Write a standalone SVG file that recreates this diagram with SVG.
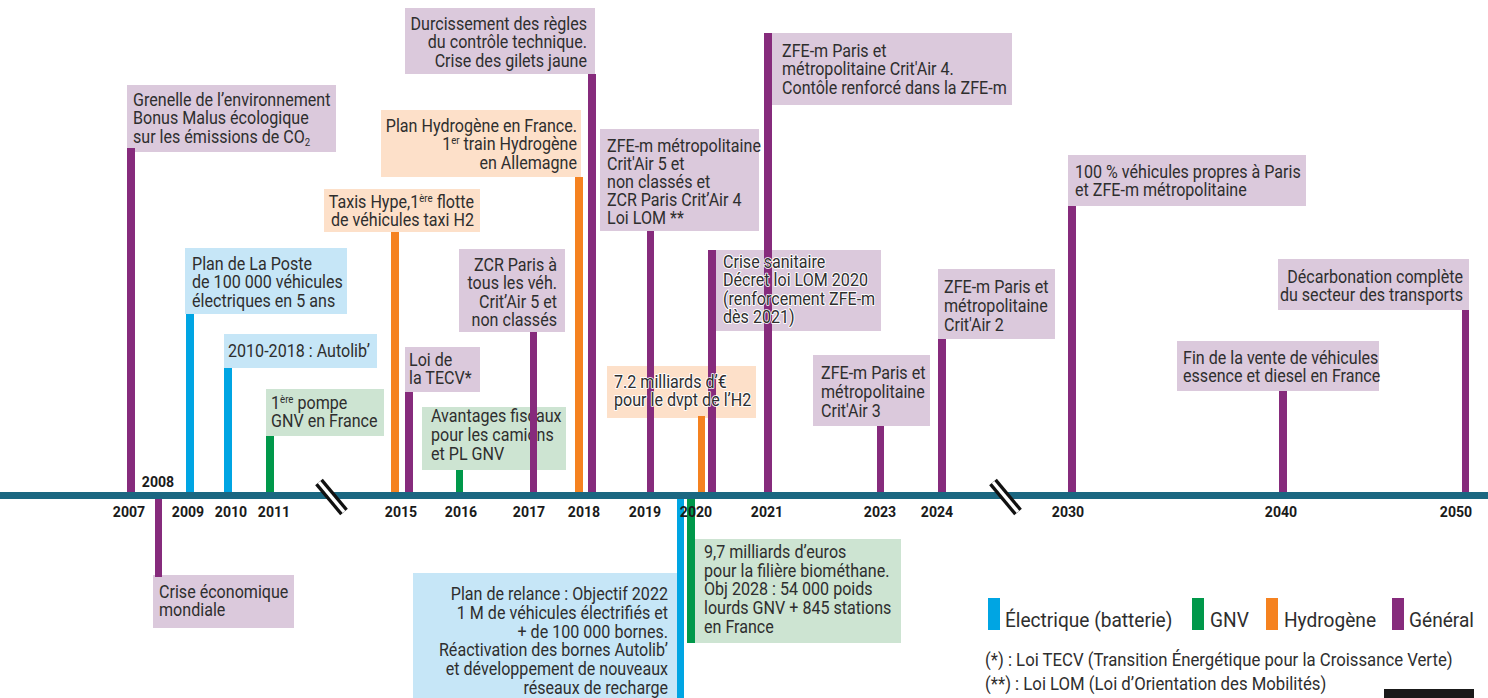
<svg xmlns="http://www.w3.org/2000/svg" xmlns:xlink="http://www.w3.org/1999/xlink" width="1488" height="698" viewBox="0 0 1488 698">
<style>
.t{font-family:Roboto,"Liberation Sans",sans-serif;font-size:17.5px;fill:#2e2e2e}
.e{text-anchor:end}
.halo{stroke:#ffffff;stroke-width:1.6px;paint-order:stroke;stroke-linejoin:round}
.bp{fill:#dbc9dc}.bb{fill:#c6e6f7}.bg{fill:#cde4d2}.bo{fill:#fde0c9}
.sp{fill:#862b7c}.sb{fill:#00a5e3}.sg{fill:#00984a}.so{fill:#f58220}
.yr{font-family:Roboto,"Liberation Sans",sans-serif;font-size:15px;font-weight:bold;fill:#1a1a1a;text-anchor:middle}
.lg{font-family:Roboto,"Liberation Sans",sans-serif;font-size:21px;fill:#2e2e2e}
.fn{font-family:Roboto,"Liberation Sans",sans-serif;font-size:18px;fill:#2e2e2e}
.sup{font-size:10.5px}
</style>
<rect width="1488" height="698" fill="#ffffff"/>

<g id="n2007"><rect class="bp" x="127" y="85" width="209" height="67"/>
<text class="t" transform="translate(133,106) scale(0.92,1)"><tspan x="0" y="0">Grenelle de l’environnement</tspan><tspan x="0" y="18.4">Bonus Malus écologique</tspan><tspan x="0" y="36.8">sur les émissions de CO<tspan class="sup" dy="3">2</tspan></tspan></text></g>

<g id="n2008"><rect class="bp" x="153" y="575" width="141" height="53"/>
<text class="t" transform="translate(159,598) scale(0.92,1)"><tspan x="0" y="0">Crise économique</tspan><tspan x="0" y="18.4">mondiale</tspan></text></g>

<g id="n2009"><rect class="bb" x="185" y="248" width="162" height="66"/>
<text class="t" transform="translate(192,270) scale(0.92,1)"><tspan x="0" y="0">Plan de La Poste</tspan><tspan x="0" y="18.4">de 100 000 véhicules</tspan><tspan x="0" y="36.8">électriques en 5 ans</tspan></text></g>

<g id="n2010"><rect class="bb" x="224" y="334" width="153" height="34"/>
<text class="t" transform="translate(228,357) scale(0.92,1)"><tspan x="0" y="0">2010-2018 : Autolib’</tspan></text></g>

<g id="n2011"><rect class="bg" x="266" y="389" width="118" height="47"/>
<text class="t" transform="translate(271,409) scale(0.92,1)"><tspan x="0" y="0">1<tspan class="sup" dy="-6">ère</tspan><tspan dy="6"> pompe</tspan></tspan><tspan x="0" y="18.4">GNV en France</tspan></text></g>

<g id="n2015h"><rect class="bo" x="324" y="189" width="156" height="43"/>
<text class="t e" transform="translate(474,208) scale(0.92,1)"><tspan x="0" y="0">Taxis Hype,1<tspan class="sup" dy="-6">ère</tspan><tspan dy="6"> flotte</tspan></tspan><tspan x="0" y="18.4">de véhicules taxi H2</tspan></text></g>

<g id="n2015"><rect class="bp" x="405" y="347" width="75" height="45"/>
<text class="t" transform="translate(409,366) scale(0.92,1)"><tspan x="0" y="0">Loi de</tspan><tspan x="0" y="18.4">la TECV*</tspan></text></g>

<g id="n2016"><rect class="bg" x="422" y="407" width="144" height="63"/>
<text class="t" transform="translate(431,422) scale(0.92,1)"><tspan x="0" y="0">Avantages fiscaux</tspan><tspan x="0" y="19">pour les camions</tspan><tspan x="0" y="38">et PL GNV</tspan></text></g>

<g id="n2017"><rect class="bp" x="459" y="249" width="106" height="83"/>
<text class="t e" transform="translate(557,271) scale(0.92,1)"><tspan x="0" y="0">ZCR Paris à</tspan><tspan x="0" y="18.4">tous les véh.</tspan><tspan x="0" y="36.8">Crit’Air 5 et</tspan><tspan x="0" y="55.2">non classés</tspan></text></g>

<g id="n2018h"><rect class="bo" x="381" y="110" width="200" height="67"/>
<text class="t e" transform="translate(577,132) scale(0.92,1)"><tspan x="0" y="0">Plan Hydrogène en France.</tspan><tspan x="0" y="18.4">1<tspan class="sup" dy="-6">er</tspan><tspan dy="6"> train Hydrogène</tspan></tspan><tspan x="0" y="36.8">en Allemagne</tspan></text></g>

<g id="n2018"><rect class="bp" x="405" y="8" width="190" height="66"/>
<text class="t e" transform="translate(587,30) scale(0.92,1)"><tspan x="0" y="0">Durcissement des règles</tspan><tspan x="0" y="18.4">du contrôle technique.</tspan><tspan x="0" y="36.8">Crise des gilets jaune</tspan></text></g>

<g id="n2019"><rect class="bp" x="600" y="129" width="159" height="102"/>
<text class="t" transform="translate(607,152) scale(0.92,1)"><tspan x="0" y="0">ZFE-m métropolitaine</tspan><tspan x="0" y="18">Crit'Air 5 et</tspan><tspan x="0" y="36">non classés et</tspan><tspan x="0" y="54">ZCR Paris Crit’Air 4</tspan><tspan x="0" y="72">Loi LOM **</tspan></text></g>

<g id="n2020h"><rect class="bo" x="607" y="366" width="149" height="52"/>
<text id="t2020h" class="t halo" transform="translate(614,388) scale(0.92,1)"><tspan x="0" y="0">7.2 milliards d’€</tspan><tspan x="0" y="18.4">pour le dvpt de l’H2</tspan></text></g>

<g id="n2020"><rect class="bp" x="708" y="250" width="173" height="81"/>
<text id="t2020" class="t halo" transform="translate(723,268) scale(0.92,1)"><tspan x="0" y="0">Crise sanitaire</tspan><tspan x="0" y="18.4">Décret loi LOM 2020</tspan><tspan x="0" y="36.8">(renforcement ZFE-m</tspan><tspan x="0" y="55.2">dès 2021)</tspan></text></g>

<g id="n2020e"><rect class="bb" x="413" y="573" width="264" height="125"/>
<text class="t e" transform="translate(668,600) scale(0.92,1)"><tspan x="0" y="0">Plan de relance : Objectif 2022</tspan><tspan x="0" y="18.8">1 M de véhicules électrifiés et</tspan><tspan x="0" y="37.6">+ de 100 000 bornes.</tspan><tspan x="0" y="56.4">Réactivation des bornes Autolib’</tspan><tspan x="0" y="75.2">et développement de nouveaux</tspan><tspan x="0" y="94">réseaux de recharge</tspan></text></g>

<g id="n2020g"><rect class="bg" x="687" y="539" width="214" height="104"/>
<text class="t" transform="translate(704,558) scale(0.92,1)"><tspan x="0" y="0">9,7 milliards d’euros</tspan><tspan x="0" y="18.7">pour la filière biométhane.</tspan><tspan x="0" y="37.4">Obj 2028 : 54 000 poids</tspan><tspan x="0" y="56.1">lourds GNV + 845 stations</tspan><tspan x="0" y="74.8">en France</tspan></text></g>

<g id="n2021"><rect class="bp" x="764" y="33" width="248" height="72"/>
<text class="t" transform="translate(782,57) scale(0.92,1)"><tspan x="0" y="0">ZFE-m Paris et</tspan><tspan x="0" y="18.4">métropolitaine Crit'Air 4.</tspan><tspan x="0" y="36.8">Contôle renforcé dans la ZFE-m</tspan></text></g>

<g id="n2023"><rect class="bp" x="813" y="355" width="117" height="71"/>
<text class="t" transform="translate(821,379) scale(0.92,1)"><tspan x="0" y="0">ZFE-m Paris et</tspan><tspan x="0" y="19">métropolitaine</tspan><tspan x="0" y="38">Crit'Air 3</tspan></text></g>

<g id="n2024"><rect class="bp" x="938" y="269" width="117" height="70"/>
<text class="t" transform="translate(944,293) scale(0.92,1)"><tspan x="0" y="0">ZFE-m Paris et</tspan><tspan x="0" y="19">métropolitaine</tspan><tspan x="0" y="38">Crit'Air 2</tspan></text></g>

<g id="n2030"><rect class="bp" x="1068" y="155" width="238" height="51"/>
<text class="t" transform="translate(1075,178) scale(0.92,1)"><tspan x="0" y="0">100 % véhicules propres à Paris</tspan><tspan x="0" y="18.4">et ZFE-m métropolitaine</tspan></text></g>

<g id="n2040"><rect class="bp" x="1177" y="341" width="202" height="50"/>
<text class="t" transform="translate(1183,364) scale(0.92,1)"><tspan x="0" y="0">Fin de la vente de véhicules</tspan><tspan x="0" y="18.4">essence et diesel en France</tspan></text></g>

<g id="n2050"><rect class="bp" x="1278" y="259" width="191" height="51"/>
<text class="t e" transform="translate(1463,283) scale(0.92,1)"><tspan x="0" y="0">Décarbonation complète</tspan><tspan x="0" y="18.4">du secteur des transports</tspan></text></g>

<g id="connectors">
<rect class="sp" x="127" y="148" width="8" height="344"/>
<rect class="sp" x="155" y="498" width="7" height="79"/>
<rect class="sb" x="186" y="314" width="8" height="178"/>
<rect class="sb" x="224" y="368" width="8" height="124"/>
<rect class="sg" x="266" y="436" width="8" height="56"/>
<rect class="so" x="391" y="232" width="8" height="260"/>
<rect class="sp" x="405" y="392" width="8" height="100"/>
<rect class="sg" x="456" y="470" width="7" height="22"/>
<rect class="sp" x="530" y="332" width="7" height="160"/>
<rect class="so" x="575" y="177" width="8" height="315"/>
<rect class="sp" x="588" y="74" width="8" height="418"/>
<rect class="sp" x="647" y="231" width="7" height="261"/>
<rect class="so" x="698" y="416" width="7" height="76"/>
<rect class="sp" x="708" y="250" width="8" height="242"/>
<rect class="sb" x="677" y="498" width="7" height="200"/>
<rect class="sg" x="687" y="498" width="8" height="145"/>
<rect class="sp" x="764" y="33" width="8" height="459"/>
<rect class="sp" x="877" y="426" width="7" height="66"/>
<rect class="sp" x="938" y="339" width="8" height="153"/>
<rect class="sp" x="1068" y="206" width="8" height="286"/>
<rect class="sp" x="1279" y="391" width="8" height="101"/>
<rect class="sp" x="1462" y="310" width="7" height="182"/>
</g>

<g id="overlay-labels">
<use xlink:href="#t2020h" href="#t2020h"/>
<use xlink:href="#t2020" href="#t2020"/>
</g>

<g id="axis">
<rect x="0" y="492" width="1488" height="7" fill="#1b6781"/>
<line x1="319" y1="482" x2="344" y2="512" stroke="#111" stroke-width="10"/>
<line x1="319" y1="482" x2="344" y2="512" stroke="#fff" stroke-width="3.5"/>
<line x1="993" y1="482" x2="1018" y2="512" stroke="#111" stroke-width="10"/>
<line x1="993" y1="482" x2="1018" y2="512" stroke="#fff" stroke-width="3.5"/>
</g>

<g id="years">
<text class="yr" transform="translate(129,517) scale(0.94,1)">2007</text>
<text class="yr" transform="translate(158,487) scale(0.94,1)">2008</text>
<text class="yr" transform="translate(188,517) scale(0.94,1)">2009</text>
<text class="yr" transform="translate(231,517) scale(0.94,1)">2010</text>
<text class="yr" transform="translate(274,517) scale(0.94,1)">2011</text>
<text class="yr" transform="translate(401,517) scale(0.94,1)">2015</text>
<text class="yr" transform="translate(461,517) scale(0.94,1)">2016</text>
<text class="yr" transform="translate(529,517) scale(0.94,1)">2017</text>
<text class="yr" transform="translate(584,517) scale(0.94,1)">2018</text>
<text class="yr" transform="translate(645,517) scale(0.94,1)">2019</text>
<text class="yr" transform="translate(696,517) scale(0.94,1)">2020</text>
<text class="yr" transform="translate(767,517) scale(0.94,1)">2021</text>
<text class="yr" transform="translate(880,517) scale(0.94,1)">2023</text>
<text class="yr" transform="translate(937,517) scale(0.94,1)">2024</text>
<text class="yr" transform="translate(1068,517) scale(0.94,1)">2030</text>
<text class="yr" transform="translate(1281,517) scale(0.94,1)">2040</text>
<text class="yr" transform="translate(1456,517) scale(0.94,1)">2050</text>
</g>

<g id="legend">
<rect class="sb" x="988" y="598" width="12" height="32"/>
<text class="lg" transform="translate(1005,627) scale(0.91,1)">Électrique (batterie)</text>
<rect class="sg" x="1192" y="598" width="12" height="32"/>
<text class="lg" transform="translate(1210,627) scale(0.91,1)">GNV</text>
<rect class="so" x="1266" y="598" width="12" height="32"/>
<text class="lg" transform="translate(1284,627) scale(0.91,1)">Hydrogène</text>
<rect class="sp" x="1392" y="598" width="12" height="32"/>
<text class="lg" transform="translate(1409,627) scale(0.91,1)">Général</text>
<text class="fn" transform="translate(985,666) scale(0.93,1)">(*) : Loi TECV (Transition Énergétique pour la Croissance Verte)</text>
<text class="fn" transform="translate(985,690) scale(0.93,1)">(**) : Loi LOM (Loi d’Orientation des Mobilités)</text>
<rect x="1384" y="689" width="90" height="9" fill="#1a1a1a"/>
</g>
</svg>
